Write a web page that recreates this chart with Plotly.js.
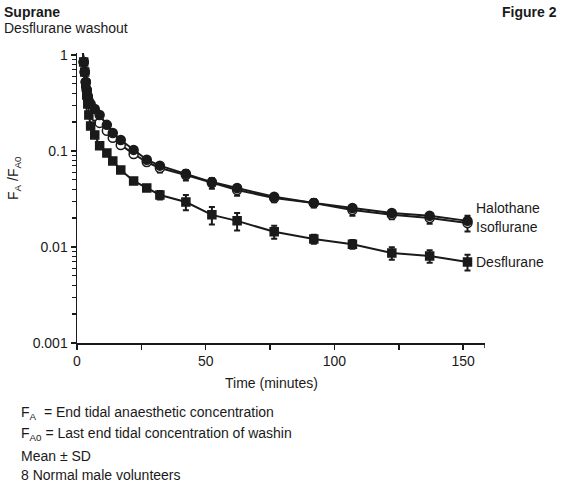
<!DOCTYPE html>
<html>
<head>
<meta charset="utf-8">
<script src="https://cdn.plot.ly/plotly-3.0.1.min.js"></script>
<style>
  html, body { margin: 0; padding: 0; background: #fff; }
  #chart { width: 562px; height: 486px; }
</style>
</head>
<body>
<div id="chart"></div>
<script>
// Sampling times after end of washin (minutes)
const timeMin = [2.2, 2.6, 3.0, 3.4, 3.8, 4.2, 4.6, 5.3, 6.9, 8.8, 11.6, 13.9, 17.0,
                 22.0, 27.1, 32.2, 42.3, 52.4, 62.2, 76.6, 92.0, 107.0, 122.3, 137.0, 151.7];

// FA/FA0 means
const halothane = [1.10, 0.845, 0.665, 0.523, 0.432, 0.374, 0.332, 0.309, 0.274, 0.237, 0.187, 0.154, 0.130,
                   0.1026, 0.0811, 0.0703, 0.0579, 0.0474, 0.0412, 0.0333, 0.0287, 0.0255, 0.0226, 0.0211, 0.0187];
const isoflurane = [1.10, 0.845, 0.665, 0.523, 0.432, 0.357, 0.309, 0.280, 0.231, 0.196, 0.162, 0.137, 0.1155,
                    0.0929, 0.0767, 0.0665, 0.0562, 0.0464, 0.0392, 0.0324, 0.0287, 0.0243, 0.0216, 0.0200, 0.0178];
const desflurane = [1.13, 0.845, 0.665, 0.499, 0.383, 0.309, 0.237, 0.182, 0.147, 0.113, 0.0953, 0.0787, 0.0634,
                    0.0487, 0.0412, 0.0348, 0.0294, 0.0216, 0.0187, 0.0144, 0.0121, 0.0107, 0.00866, 0.00806, 0.00698];

// Standard deviations
const halothaneSD = [0.03, 0.025, 0.02, 0.015, 0.012, 0.01, 0.009, 0.008, 0.007, 0.006, 0.005, 0.004, 0.004,
                     0.003, 0.0025, 0.002, 0.002, 0.0015, 0.0012, 0.001, 0.0008, 0.0008, 0.0008, 0.0008, 0.001];
const isofluraneSD = [0.03, 0.025, 0.02, 0.015, 0.012, 0.01, 0.009, 0.008, 0.008, 0.007, 0.007, 0.006, 0.006,
                      0.007, 0.0058, 0.0067, 0.0071, 0.0059, 0.005, 0.0032, 0.0029, 0.0031, 0.0022, 0.0025, 0.0033];
const desfluraneSD = [0.04, 0.03, 0.025, 0.02, 0.015, 0.012, 0.01, 0.008, 0.007, 0.006, 0.005, 0.004, 0.004,
                      0.0035, 0.003, 0.0035, 0.0053, 0.0045, 0.0039, 0.0022, 0.0013, 0.0011, 0.0013, 0.0012, 0.0013];

// Axis ticks
const xTickVals = [0, 50, 100, 150];
const xTickText = ['0', '50', '100', '150'];
const xMinorVals = [25, 75, 125];
const xAxisEnd = 158.5;
const yDecades = [0.001, 0.01, 0.1, 1];
const yDecadeLabels = ['0.001', '0.01', '0.1', '1'];

const INK = '#1a1a1a';
const FONT = 'Liberation Sans, Arial, sans-serif';

// minor log ticks at 2..9 within each decade
const yMinorVals = [];
yDecades.slice(0, -1).forEach(d => {
  for (let m = 2; m <= 9; m++) yMinorVals.push(d * m);
});

function series(y, sd, symbol, fill) {
  return {
    x: timeMin, y: y, type: 'scatter', mode: 'lines+markers', cliponaxis: false,
    line: { color: INK, width: 2 },
    marker: { symbol: symbol, size: symbol === 'square' ? 8 : 9, color: fill,
              line: { color: INK, width: 1.5 } },
    error_y: { type: 'data', array: sd, visible: true, color: INK, thickness: 2, width: 3 },
    showlegend: false, hoverinfo: 'skip'
  };
}

const data = [
  series(isoflurane, isofluraneSD, 'circle', '#ffffff'),
  series(halothane, halothaneSD, 'circle', INK),
  series(desflurane, desfluraneSD, 'square', INK)
];

function note(text, x, y, opts) {
  return Object.assign({ text: text, xref: 'paper', yref: 'paper', x: x, y: y,
    xanchor: 'left', yanchor: 'middle', showarrow: false,
    font: { family: FONT, size: 14, color: INK } }, opts || {});
}

// paper coordinates relative to the plot box (77..485 px, 53..343 px)
const px = v => (v - 77) / 408;
const py = v => (343 - v) / 290;

const annotations = [
  note('<b>Suprane</b>', px(2), py(12)),
  note('Desflurane washout', px(2), py(28)),
  note('<b>Figure 2</b>', px(559), py(12), { xanchor: 'right' }),
  note('Halothane', px(474), py(208)),
  note('Isoflurane', px(474), py(227)),
  note('Desflurane', px(474), py(262)),
  note('Time (minutes)', px(271), py(383), { xanchor: 'center' }),
  note('F<sub>A</sub> /F<sub>A0</sub>', px(14), py(178), { xanchor: 'center', textangle: -90 }),
  note('F<sub>A</sub>  = End tidal anaesthetic concentration', px(19), py(413)),
  note('F<sub>A0</sub> = Last end tidal concentration of washin', px(19), py(434)),
  note('Mean ± SD', px(19), py(456)),
  note('8 Normal male volunteers', px(19), py(475))
];

// closing tick at the right end of the time axis
const shapes = [{
  type: 'line', xref: 'x', yref: 'paper', x0: xAxisEnd, x1: xAxisEnd,
  y0: 0, y1: -5 / 290, line: { color: INK, width: 1.5 }
}];

const layout = {
  width: 562, height: 486,
  margin: { l: 77, r: 77, t: 53, b: 143 },
  paper_bgcolor: '#ffffff', plot_bgcolor: '#ffffff',
  font: { family: FONT, size: 14, color: INK },
  xaxis: {
    range: [0, xAxisEnd], showgrid: false, zeroline: false,
    showline: true, linecolor: INK, linewidth: 1.5,
    ticks: 'outside', ticklen: 5, tickwidth: 1.5, tickcolor: INK,
    tickmode: 'array', tickvals: xTickVals, ticktext: xTickText,
    minor: { tickmode: 'array', tickvals: xMinorVals, ticks: 'outside', ticklen: 5,
             tickwidth: 1.5, tickcolor: INK, showgrid: false },
    tickfont: { family: FONT, size: 14, color: INK }
  },
  yaxis: {
    type: 'log', range: [-3, 0.02], showgrid: false, zeroline: false,
    showline: true, linecolor: INK, linewidth: 1.5,
    ticks: 'outside', ticklen: 5, tickwidth: 1.3, tickcolor: INK,
    tickmode: 'array', tickvals: yDecades, ticktext: yDecadeLabels,
    minor: { tickmode: 'array', tickvals: yMinorVals, ticks: 'outside', ticklen: 4,
             tickwidth: 1.2, tickcolor: INK, showgrid: false },
    tickfont: { family: FONT, size: 14, color: INK }
  },
  shapes: shapes,
  annotations: annotations
};

Plotly.newPlot('chart', data, layout, { displayModeBar: false, staticPlot: true });
</script>
</body>
</html>
